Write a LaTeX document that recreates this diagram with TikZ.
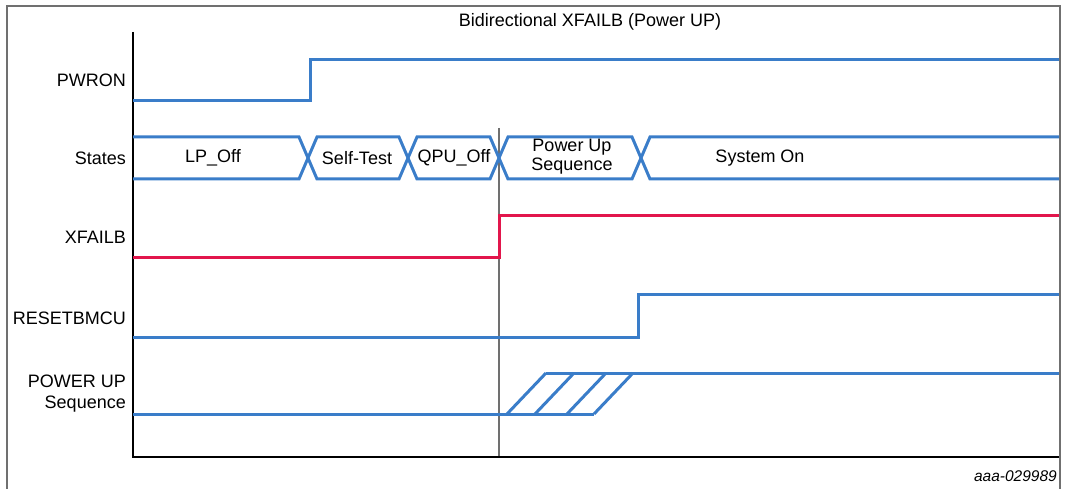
\documentclass[tikz,border=0pt]{standalone}
\usepackage{fontspec}
\setmainfont{Liberation Sans}
\definecolor{sigblue}{RGB}{58,125,201}
\definecolor{sigred}{RGB}{226,22,76}
\definecolor{framegray}{RGB}{112,112,112}
\begin{document}
\begin{tikzpicture}[x=1pt,y=-1pt,
  sig/.style={sigblue, line width=3pt},
  lbl/.style={anchor=east, inner sep=0pt, font=\fontsize{18}{21}\selectfont},
  txt/.style={inner sep=0pt, font=\fontsize{18}{19}\selectfont, align=center}]
\useasboundingbox (0,0) rectangle (1069,489);
\draw[framegray, line width=1.5pt] (7,489) -- (7,6) -- (1060,6) -- (1060,489);
\node[txt] (title) at (590,22){Bidirectional XFAILB (Power UP)};
\node[lbl] (lpwron) at (126,80){PWRON};
\node[lbl] (lstates) at (126,158){States};
\node[lbl] (lxfailb) at (126,237){XFAILB};
\node[lbl] (lreset) at (126,318){RESETBMCU};
\node[lbl, align=right] (lpus) at (126,394){POWER UP\\Sequence};
\node[inner sep=0pt, anchor=east, font=\fontsize{15.5}{16}\selectfont\itshape] (ref) at (1057,476){aaa-029989};
\coordinate (ytop) at (133,32);
\coordinate (orig) at (133,457);
\coordinate (xend) at (1059,457);
\coordinate (mtop) at (499,128);
\coordinate (mbot) at (499,457);
\draw[framegray, line width=1.2pt] (mtop) -- (mbot);
\draw[black, line width=1.2pt] (ytop) -- (orig) -- (xend);
\draw[sig] (133,101) -- (310,101) -- (310,60) -- (1059,60);
\draw[sig] (133,137) -- (299,137) -- (317,179) -- (399,179) -- (417,137) -- (490,137) -- (508,179) -- (632,179) -- (650,137) -- (1059,137);
\draw[sig] (133,179) -- (299,179) -- (317,137) -- (399,137) -- (417,179) -- (490,179) -- (508,137) -- (632,137) -- (650,179) -- (1059,179);
\node[txt] (slpoff) at (213,158){LP\_Off};
\node[txt] (sself) at (357,158){Self-Test};
\node[txt] (sqpu) at (454,158){QPU\_Off};
\node[txt] (spus) at (572,157){Power Up\\Sequence};
\node[txt] (sson) at (760,158){System On};
\draw[sigred, line width=3pt] (133,258) -- (499,258) -- (499,216) -- (1059,216);
\draw[sig] (133,337) -- (638,337) -- (638,295) -- (1059,295);
\draw[sig] (133,414) -- (594,414);
\draw[sig] (546,373) -- (1059,373);
\foreach \xb/\xt in {507/546, 535/574, 567/606, 594/633}
  \draw[sig] (\xb,414) -- (\xt,373);
\end{tikzpicture}
\end{document}
